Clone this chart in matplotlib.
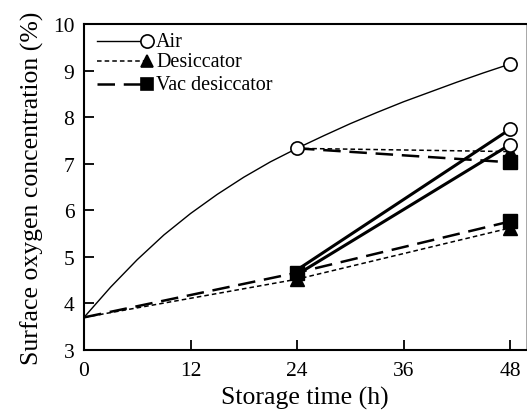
import matplotlib
matplotlib.use("Agg")
import matplotlib.pyplot as plt

plt.rcParams['font.family'] = ['Liberation Serif', 'DejaVu Serif']

# Air: smooth curve, plus the open circles
air_t = [0, 3, 6, 9, 12, 15, 18, 21, 24, 27, 30, 33, 36, 39, 42, 45, 48]
air_curve = [3.7, 4.35, 4.94, 5.47, 5.93, 6.34, 6.71, 7.04, 7.33, 7.6, 7.86,
             8.1, 8.33, 8.54, 8.75, 8.95, 9.14]
air_pts_t = [24, 48]
air_pts = [7.33, 9.14]

# Desiccator / vacuum desiccator from the start
des_t = [0, 24, 48]
des = [3.7, 4.52, 5.62]
vac_t = [0, 24, 48]
vac = [3.7, 4.66, 5.76]

# moved at 24 h: air -> desiccator, air -> vac desiccator
move_t = [24, 48]
air_to_des = [7.33, 7.26]
air_to_vac = [7.33, 7.03]
# vac desiccator -> air (two runs)
vac_to_air1 = [4.72, 7.74]
vac_to_air2 = [4.62, 7.41]

xticks = [0, 12, 24, 36, 48]
yticks = [3, 4, 5, 6, 7, 8, 9, 10]

fig = plt.figure(figsize=(5.27, 4.14), dpi=100)
ax = fig.add_axes([0.1594, 0.1522, 0.8387, 0.7874])

short = (0, (3, 2))
long_ = (0, (7, 3.5))

ax.plot(air_t, air_curve, color='black', lw=1.0, zorder=2)
ax.plot(des_t, des, color='black', lw=1.1, ls=short, zorder=2)
ax.plot(vac_t, vac, color='black', lw=1.8, ls=long_, zorder=2)
ax.plot(move_t, air_to_des, color='black', lw=1.1, ls=short, zorder=2)
ax.plot(move_t, air_to_vac, color='black', lw=1.8, ls=long_, zorder=2)
ax.plot(move_t, vac_to_air1, color='black', lw=2.2, zorder=2)
ax.plot(move_t, vac_to_air2, color='black', lw=2.2, zorder=2)

# markers
ax.plot(des_t[1:], des[1:], ls='none', marker='^', ms=10, color='black', zorder=3)
ax.plot(move_t[1:], air_to_des[1:], ls='none', marker='^', ms=10, color='black', zorder=3)
ax.plot(vac_t[1:], vac[1:], ls='none', marker='s', ms=10, color='black', zorder=4)
ax.plot(move_t[1:], air_to_vac[1:], ls='none', marker='s', ms=10, color='black', zorder=4)
ax.plot(air_pts_t, air_pts, ls='none', marker='o', ms=9.5, mfc='white',
        mec='black', mew=1.2, zorder=5)
ax.plot(move_t[1:], vac_to_air1[1:], ls='none', marker='o', ms=9.5, mfc='white',
        mec='black', mew=1.2, zorder=5)
ax.plot(move_t[1:], vac_to_air2[1:], ls='none', marker='o', ms=9.5, mfc='white',
        mec='black', mew=1.2, zorder=5)

# hand-drawn legend, top left
leg = [("Air", '-', 1.0, 'o', 'white', 0.947),
       ("Desiccator", short, 1.1, '^', 'black', 0.885),
       ("Vac desiccator", long_, 1.8, 's', 'black', 0.815)]
for label, ls, lw, mk, fc, yy in leg:
    ax.plot([0.03, 0.135], [yy, yy], transform=ax.transAxes, color='black',
            ls=ls, lw=lw, clip_on=False)
    ax.plot([0.143], [yy], transform=ax.transAxes, marker=mk, ms=9.5 if mk == 'o' else 9,
            mfc=fc, mec='black', mew=1.2, color='black', clip_on=False)
    ax.text(0.163, yy, label, transform=ax.transAxes, fontsize=14.5,
            va='center', ha='left')

ax.set_xlim(0, 49.8)
ax.set_ylim(3, 10)
ax.set_xticks(xticks)
ax.set_yticks(yticks)
ax.tick_params(direction='in', length=7, width=1.3, labelsize=15.5)
ax.tick_params(axis='x', pad=8)
ax.tick_params(axis='y', pad=7)
for s in ['left', 'bottom', 'top']:
    ax.spines[s].set_linewidth(1.5)
ax.spines['right'].set_linewidth(0.6)
ax.spines['right'].set_color('0.6')

ax.set_xlabel("Storage time (h)", fontsize=18.5, labelpad=4)
ax.set_ylabel("Surface oxygen concentration (%)", fontsize=18.5, labelpad=6)

fig.savefig("out.png", dpi=100)
